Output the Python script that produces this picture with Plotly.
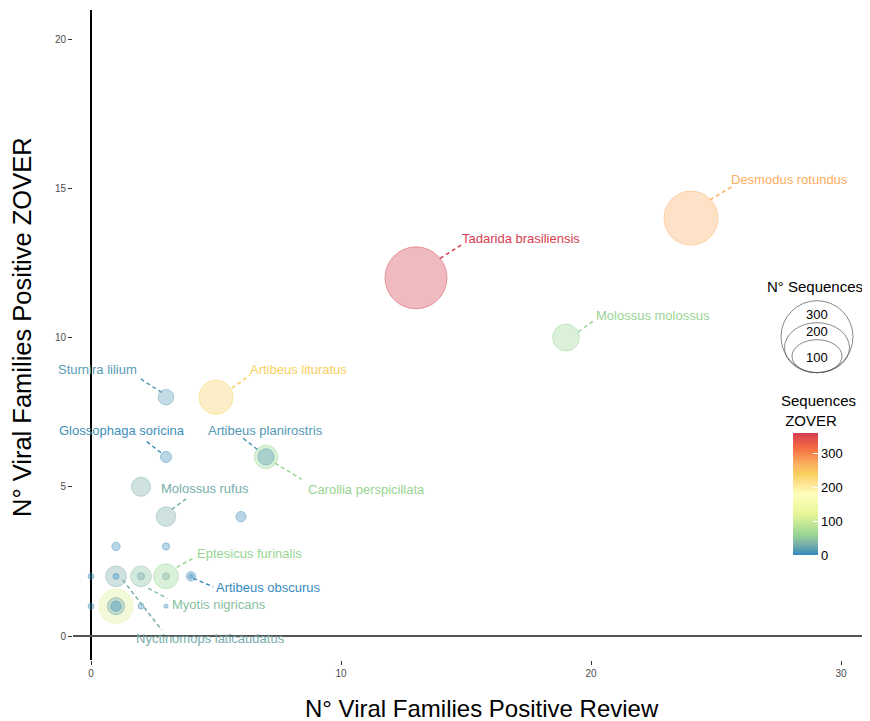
import math
import plotly.graph_objects as go
from plotly.colors import sample_colorscale, unlabel_rgb

# ---------------- data ----------------
species = [
    "Tadarida brasiliensis", "Desmodus rotundus", "Artibeus lituratus", "",
    "Molossus molossus", "Eptesicus furinalis", "Carollia perspicillata",
    "Myotis nigricans", "Nyctinomops laticaudatus", "Molossus rufus", "", "",
    "Artibeus planirostris", "Sturnira lilium", "Glossophaga soricina", "", "",
    "Artibeus obscurus", "", "", "", "", "", "", "", "", "", "",
]
review = [13, 24, 5, 1, 19, 3, 7, 2, 1, 3, 2, 1, 7, 3, 3, 6, 1, 4, 1, 3, 2, 3, 0, 1, 0, 2, 4, 3]
zover = [12, 14, 8, 1, 10, 2, 6, 2, 2, 4, 5, 1, 6, 8, 6, 4, 1, 2, 3, 3, 2, 2, 2, 2, 1, 1, 2, 1]
n_sequences = [222, 169, 67, 67, 42, 36, 32, 25, 25, 22, 21, 17, 15, 14, 7, 6, 6, 5, 4, 3, 3, 3, 2, 2, 2, 2, 1, 1]
seq_zover = [360, 270, 240, 115, 60, 60, 60, 45, 30, 30, 30, 22, 14, 16, 6, 4, 2, 2, 3, 4, 22, 32, 3, 0, 3, 3, 0, 5]

x_ticks = [0, 10, 20, 30]
y_ticks = [0, 5, 10, 15, 20]
size_breaks = [300, 200, 100]
color_ticks = [0, 100, 200, 300]
color_max = 360

# label placement (data units): label centre and segment endpoints
label_pos = {
    "Desmodus rotundus": (27.92, 15.30, 24.76, 14.61, 25.63, 15.05),
    "Tadarida brasiliensis": (17.20, 13.31, 13.96, 12.65, 14.87, 13.13),
    "Molossus molossus": (22.49, 10.74, 19.49, 10.19, 20.12, 10.57),
    "Artibeus lituratus": (8.31, 8.94, 5.63, 8.30, 6.36, 8.74),
    "Sturnira lilium": (0.26, 8.93, 1.99, 8.61, 2.83, 8.16),
    "Glossophaga soricina": (1.23, 6.90, 2.23, 6.51, 2.83, 6.12),
    "Artibeus planirostris": (6.96, 6.90, 6.09, 6.62, 6.76, 6.18),
    "Carollia perspicillata": (11.0, 4.92, 7.36, 5.79, 8.43, 5.25),
    "Molossus rufus": (4.54, 4.95, 3.23, 4.24, 3.83, 4.61),
    "Eptesicus furinalis": (6.34, 2.75, 3.43, 2.30, 4.16, 2.64),
    "Artibeus obscurus": (7.08, 1.62, 4.09, 1.93, 4.89, 1.65),
    "Myotis nigricans": (5.11, 1.07, 2.29, 1.60, 3.05, 1.26),
    "Nyctinomops laticaudatus": (4.76, -0.08, 1.27, 1.88, 2.83, 0.20),
}

# ---------------- styling ----------------
OFF = 8                      # page body margin
W, H = 870 - OFF, 721 - OFF
ML, MR, MT, MB = 73 - OFF, 0, 10 - OFF, 61
PW, PH = W - ML - MR, H - MT - MB
FONT = "Liberation Sans, Arial, Helvetica, sans-serif"

# Spectral-like ramp (approximating Lab interpolation of the brewer palette)
spectral = [[0 / 360, "#3288BD"], [30 / 360, "#77ADAA"], [60 / 360, "#99D594"],
            [120 / 360, "#E6F598"], [180 / 360, "#FFFFBF"], [215 / 360, "#FEE08B"],
            [240 / 360, "#F9CF5E"], [270 / 360, "#FDAE61"], [315 / 360, "#F46D43"],
            [360 / 360, "#D53E4F"]]


def px_x(px):
    return (px - OFF - ML) / PW


def px_y(py):
    return (MT + PH - (py - OFF)) / PH


def col(v, alpha=None):
    c = sample_colorscale(spectral, [min(max(v / color_max, 0), 1)])[0]
    r, g, b = unlabel_rgb(c)
    if alpha is None:
        return "rgb(%d,%d,%d)" % (r, g, b)
    return "rgba(%d,%d,%d,%.2f)" % (r, g, b, alpha)


def diam(v):
    return 4.157 * math.sqrt(v)


fig = go.Figure()
fig.add_trace(go.Scatter(
    x=review, y=zover, mode="markers", hoverinfo="text", text=species,
    marker=dict(
        size=[diam(v) for v in n_sequences],
        color=[col(v, 0.5) for v in seq_zover],
        line=dict(color=[col(v, 0.7) for v in seq_zover], width=1),
    ),
    showlegend=False,
))
# colourbar carrier
fig.add_trace(go.Scatter(
    x=[None], y=[None], mode="markers", showlegend=False, hoverinfo="skip",
    marker=dict(
        color=[0], colorscale=spectral, cmin=0, cmax=color_max, showscale=True,
        colorbar=dict(
            x=px_x(793), xanchor="left", y=px_y(494), yanchor="middle",
            thickness=25, len=122, lenmode="pixels", outlinewidth=0,
            tickvals=color_ticks, ticks="inside", tickcolor="white", ticklen=5,
            tickfont=dict(size=13, color="black", family=FONT), xpad=0, ypad=0,
        ),
    ),
))

annotations = []
shapes = []
for i, name in enumerate(species):
    if name and name in label_pos:
        lx, ly, sx0, sy0, sx1, sy1 = label_pos[name]
        c = col(seq_zover[i])
        annotations.append(dict(x=lx, y=ly, xref="x", yref="y", text=name, showarrow=False,
                                xanchor="center", yanchor="middle",
                                font=dict(size=13, color=c, family=FONT)))
        shapes.append(dict(type="line", xref="x", yref="y", x0=sx0, y0=sy0, x1=sx1, y1=sy1,
                           line=dict(color=c, width=1.5, dash="4px,3px")))

# size legend
legend_dims = {300: (72, 72), 200: (65, 50), 100: (50, 33)}
legend_text_y = {300: 314, 200: 331, 100: 357}
for b in size_breaks:
    w, h = legend_dims[b]
    shapes.append(dict(type="circle", xref="paper", yref="paper",
                       xsizemode="pixel", ysizemode="pixel",
                       xanchor=px_x(817), yanchor=px_y(372.7),
                       x0=-w / 2, x1=w / 2, y0=0, y1=h,
                       line=dict(color="#555555", width=0.7)))
    annotations.append(dict(x=px_x(817), y=px_y(legend_text_y[b]), xref="paper", yref="paper",
                            text=str(b), showarrow=False, xanchor="center", yanchor="middle",
                            font=dict(size=13, color="black", family=FONT)))

annotations += [
    dict(x=px_x(815), y=px_y(287), xref="paper", yref="paper", text="N° Sequences",
         showarrow=False, xanchor="center", yanchor="middle",
         font=dict(size=15, color="black", family=FONT)),
    dict(x=px_x(779), y=px_y(410), xref="paper", yref="paper", text="Sequences<br> ZOVER",
         showarrow=False, xanchor="left", yanchor="middle", align="left",
         font=dict(size=15, color="black", family=FONT)),
    dict(x=px_x(482), y=px_y(708), xref="paper", yref="paper",
         text="N° Viral Families Positive Review", showarrow=False,
         xanchor="center", yanchor="middle",
         font=dict(size=24, color="black", family=FONT)),
    dict(x=px_x(22), y=px_y(327), xref="paper", yref="paper",
         text="N° Viral Families Positive ZOVER", showarrow=False, textangle=-90,
         xanchor="center", yanchor="middle",
         font=dict(size=25.5, color="black", family=FONT)),
]

axis_common = dict(showgrid=False, showline=False, ticks="outside", ticklen=4,
                   tickcolor="#333333", tickwidth=1,
                   tickfont=dict(size=10, color="#4d4d4d", family=FONT), zeroline=True)

fig.update_layout(
    width=W, height=H, margin=dict(l=ML, r=MR, t=MT, b=MB),
    paper_bgcolor="white", plot_bgcolor="white",
    xaxis=dict(range=[(73 - 91) / 25, (870 - 91) / 25], tickvals=x_ticks,
               zerolinecolor="black", zerolinewidth=1.5, **axis_common),
    yaxis=dict(range=[-(660 - 636) / 29.85, (636 - 10) / 29.85], tickvals=y_ticks,
               zerolinecolor="#555555", zerolinewidth=2, **axis_common),
    annotations=annotations, shapes=shapes, font=dict(family=FONT),
)

fig.write_html("out.html")
